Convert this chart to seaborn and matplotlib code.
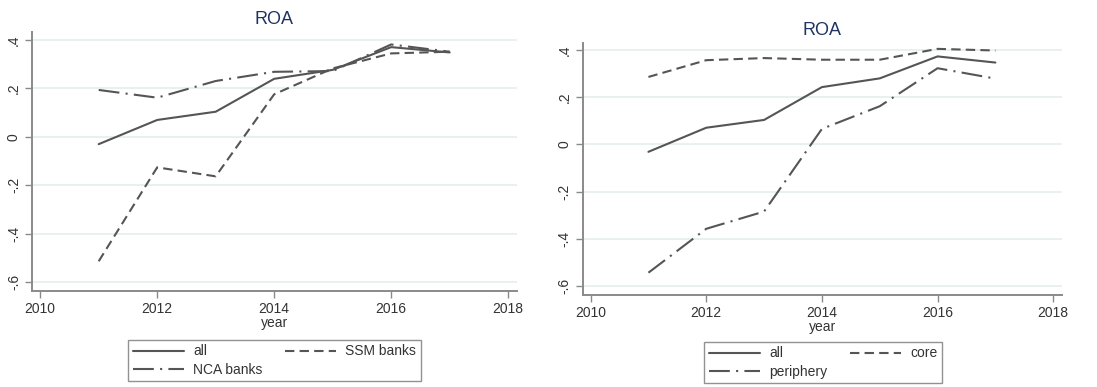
import matplotlib
matplotlib.use("Agg")
import matplotlib.pyplot as plt
import seaborn as sns
import pandas as pd

years = [2011, 2012, 2013, 2014, 2015, 2016, 2017]

# Panel 1: supervision groups
roa_all = [-0.030, 0.070, 0.104, 0.240, 0.277, 0.371, 0.349]
roa_ssm = [-0.514, -0.126, -0.163, 0.176, 0.283, 0.345, 0.352]
roa_nca = [0.194, 0.162, 0.231, 0.269, 0.272, 0.382, 0.352]

# Panel 2: country groups
roa_all2 = [-0.031, 0.071, 0.104, 0.243, 0.280, 0.373, 0.347]
roa_core = [0.286, 0.357, 0.366, 0.359, 0.359, 0.405, 0.398]
roa_periphery = [-0.543, -0.357, -0.284, 0.066, 0.162, 0.323, 0.279]

y_ticks = [0.4, 0.2, 0.0, -0.2, -0.4, -0.6]
y_tick_labels = [".4", ".2", "0", "-.2", "-.4", "-.6"]
x_ticks = [2010, 2012, 2014, 2016, 2018]

sns.set_theme(style="white")
plt.rcParams["font.family"] = ["Liberation Sans", "DejaVu Sans"]

LINE_COLOR = "#555555"
AXIS_COLOR = "#8a8a8a"
GRID_COLOR = "#e4eeee"
TITLE_COLOR = "#1f3461"

styles = {
    "solid": dict(linestyle="-"),
    "dash": dict(dashes=(4.5, 2.5)),
    "dashdot": dict(dashes=(10, 3, 1, 3)),
}


def draw_panel(ax, series, ylim):
    frames = []
    for name, vals, style in series:
        frames.append(pd.DataFrame({"year": years, "roa": vals, "group": name}))
    df = pd.concat(frames, ignore_index=True)
    handles = {}
    for name, vals, style in series:
        sub = df[df["group"] == name]
        sns.lineplot(data=sub, x="year", y="roa", ax=ax, color=LINE_COLOR,
                     linewidth=1.5, label=name, **styles[style])
        handles[name] = ax.get_lines()[-1]
    ax.set_xlim(2009.86, 2018.15)
    ax.set_ylim(*ylim)
    ax.set_yticks(y_ticks)
    ax.set_yticklabels(y_tick_labels, rotation=90, va="center")
    ax.set_xticks(x_ticks)
    ax.set_xticklabels([str(t) for t in x_ticks])
    ax.yaxis.grid(True, color=GRID_COLOR, linewidth=1.2)
    ax.xaxis.grid(False)
    for side in ["top", "right"]:
        ax.spines[side].set_visible(False)
    for side in ["left", "bottom"]:
        ax.spines[side].set_color(AXIS_COLOR)
        ax.spines[side].set_linewidth(1.4)
    ax.tick_params(axis="both", which="major", length=5, width=1.0,
                   color=AXIS_COLOR, labelsize=10, labelcolor="#333333",
                   bottom=True, left=True, pad=3)
    ax.set_xlabel("year", fontsize=10, color="#333333", labelpad=0)
    ax.set_ylabel("")
    ax.set_title("ROA", fontsize=13, color=TITLE_COLOR, pad=6)
    if ax.get_legend() is not None:
        ax.get_legend().remove()
    return handles


fig = plt.figure(figsize=(10.97, 3.87), dpi=100)
ax1 = fig.add_axes([0.0292, 0.248, 0.442, 0.669])
ax2 = fig.add_axes([0.531, 0.238, 0.437, 0.651])

h1 = draw_panel(ax1, [("all", roa_all, "solid"),
                      ("SSM banks", roa_ssm, "dash"),
                      ("NCA banks", roa_nca, "dashdot")],
                (-0.637, 0.433))
h2 = draw_panel(ax2, [("all", roa_all2, "solid"),
                      ("core", roa_core, "dash"),
                      ("periphery", roa_periphery, "dashdot")],
                (-0.637, 0.43))

leg_kw = dict(ncol=2, fontsize=10, frameon=True, fancybox=False,
              handlelength=3.7, handletextpad=0.65, columnspacing=1.6,
              labelspacing=0.3, borderpad=0.35, edgecolor="#777777",
              loc="center")
leg1 = fig.legend([h1["all"], h1["NCA banks"], h1["SSM banks"]],
                  ["all", "NCA banks", "SSM banks"],
                  bbox_to_anchor=(274.5 / 1097, 1 - 360.5 / 387), **leg_kw)
leg2 = fig.legend([h2["all"], h2["periphery"], h2["core"]],
                  ["all", "periphery", "core"],
                  bbox_to_anchor=(823 / 1097, 1 - 362.5 / 387), **leg_kw)
for leg in (leg1, leg2):
    leg.get_frame().set_linewidth(1.0)
    for t in leg.get_texts():
        t.set_color("#333333")

fig.savefig("out.png", dpi=100)
